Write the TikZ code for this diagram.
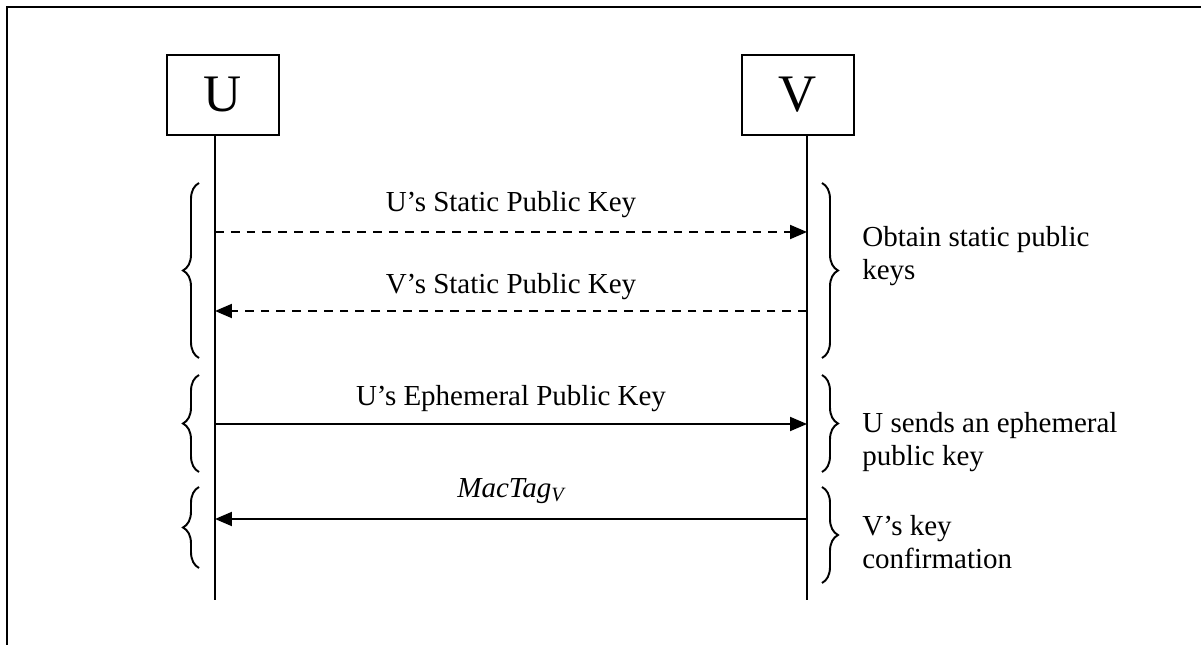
\documentclass[tikz,border=0pt]{standalone}
\usepackage{fontspec}
\setmainfont{Liberation Serif}
\usetikzlibrary{arrows.meta,decorations.pathreplacing}

\tikzset{
  party/.style={draw,line width=1.1pt,minimum width=2.24cm,minimum height=1.6cm,
    inner sep=0pt,font=\fontsize{30}{30}\selectfont},
  msg/.style={line width=1.1pt,-{Triangle[length=0.34cm,width=0.28cm]}},
  lbl/.style={font=\fontsize{16.5}{18.5}\selectfont},
  note/.style={lbl,anchor=west,align=left,inner sep=0pt},
  brc/.style={line width=1.1pt,decorate,decoration={brace,amplitude=0.32cm}}
}

\begin{document}
\begin{tikzpicture}[x=0.02cm,y=-0.02cm]

\useasboundingbox (0,0) rectangle (1201,645);

\draw[line width=1.1pt] (7,7) rectangle (1215,660);

% the two parties
\node[party] (U) at (223,95) {U};
\node[party] (V) at (798,95) {V};

\coordinate (Uend) at (215,600);
\coordinate (Vend) at (807,600);

\draw[line width=1.1pt] (U.south -| Uend) -- (Uend);
\draw[line width=1.1pt] (V.south -| Vend) -- (Vend);

% message points on the lifelines
\coordinate (u1) at (215,232);
\coordinate (v1) at (807,232);
\coordinate (u2) at (215,311);
\coordinate (v2) at (807,311);
\coordinate (u3) at (215,424);
\coordinate (v3) at (807,424);
\coordinate (u4) at (215,519);
\coordinate (v4) at (807,519);

\draw[msg,dash pattern=on 5pt off 4pt] (u1) -- (v1);
\draw[msg,dash pattern=on 5pt off 4pt] (v2) -- (u2);
\draw[msg] (u3) -- (v3);
\draw[msg] (v4) -- (u4);

\node[lbl] (m1) at (511,205) {U’s Static Public Key};
\node[lbl] (m2) at (511,287) {V’s Static Public Key};
\node[lbl] (m3) at (511,399) {U’s Ephemeral Public Key};
\node[lbl] (m4) at (511,491) {\itshape MacTag\textsubscript{V}};

% braces on the left
\draw[brc] (199,358) -- (199,183);
\draw[brc] (199,472) -- (199,375);
\draw[brc] (199,568) -- (199,487);

% braces on the right
\draw[brc] (822,183) -- (822,358);
\draw[brc] (822,375) -- (822,472);
\draw[brc] (822,487) -- (822,583);

\node[note] (n1) at (862,256) {Obtain static public\\keys};
\node[note] (n2) at (862,442) {U sends an ephemeral\\public key};
\node[note] (n3) at (862,542) {V’s key\\confirmation};

\end{tikzpicture}
\end{document}
